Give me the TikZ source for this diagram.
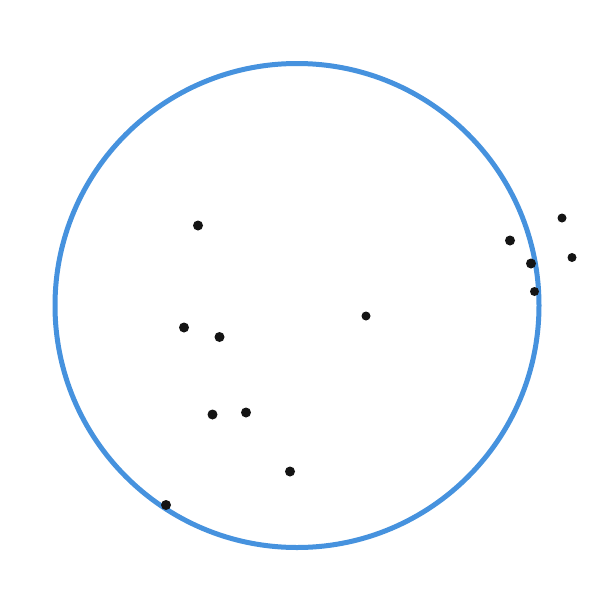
\documentclass[tikz,border=0pt]{standalone}
\definecolor{ringblue}{RGB}{70,146,222}
\definecolor{dotblack}{RGB}{20,20,20}
\tikzset{
  ring/.style={draw=ringblue,line width=2.5pt},
  pt/.style={circle,fill=dotblack,inner sep=0pt,minimum size=5pt},
  ptsmall/.style={circle,fill=dotblack,inner sep=0pt,minimum size=4.5pt}
}
\begin{document}
\begin{tikzpicture}[x=0.5pt,y=-0.5pt]
\useasboundingbox (0,0) rectangle (600,600);
\fill[white] (0,0) rectangle (600,600);
\node[circle,ring,minimum size=242pt,inner sep=0pt] (ring) at (297,305.5) {};
\node[pt] (p1) at (198,225.5) {};
\node[pt] (p2) at (510,240.5) {};
\node[ptsmall] (p3) at (562,218) {};
\node[pt] (p4) at (531,263.5) {};
\node[ptsmall] (p5) at (572,257.5) {};
\node[ptsmall] (p6) at (534.5,291.5) {};
\node[ptsmall] (p7) at (366,316) {};
\node[pt] (p8) at (184,327.5) {};
\node[pt] (p9) at (219.5,337) {};
\node[pt] (p10) at (212.5,414.5) {};
\node[pt] (p11) at (246,412.5) {};
\node[pt] (p12) at (290,471.5) {};
\node[pt] (p13) at (166,505) {};
\end{tikzpicture}
\end{document}
